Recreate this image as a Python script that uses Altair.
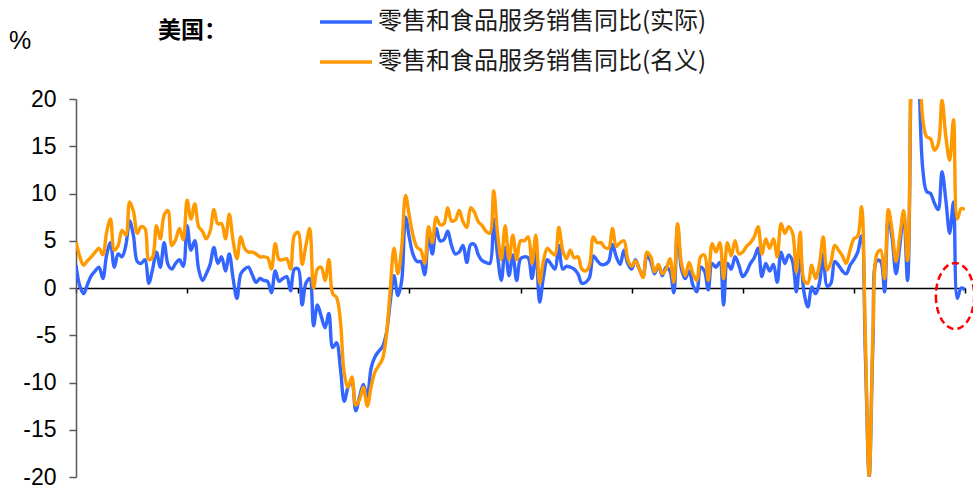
import altair as alt
import pandas as pd

# US retail & food services sales, year-on-year %, monthly from Jan 2003 to May 2022
real_yoy = [
    2.4, 0.2, -0.6, 0.4, 1.3, 1.8, 2.2, 1.0, 3.5, 4.8,
    2.2, 3.6, 3.3, 4.5, 7.1, 5.5, 2.8, 2.6, 3.0, 0.5,
    2.0, 3.8, 2.2, 4.8, 2.5, 2.0, 2.6, 3.0, 2.3, 6.6,
    4.0, 5.0, 2.0, 0.8, 1.5, 2.5, 4.3, 2.6, 3.3, 1.8,
    3.6, 1.0, -1.1, 1.5, 2.0, 2.2, 1.4, 0.6, 1.0, 0.8,
    0.7, -0.5, 1.8, 0.7, 1.0, 1.2, -0.3, 2.0, 2.0, -1.8,
    0.5, 1.0, -4.0, -1.8, -3.0, -4.2, -2.7, -6.3, -5.8, -8.5,
    -12.0, -10.5, -9.9, -13.0, -11.5, -10.2, -11.5, -8.5, -7.3, -6.7,
    -6.2, -4.8, -1.5, 1.3, -0.8, 0.8, 7.5, 5.3, 3.5, 2.8,
    2.8, 1.4, 5.6, 3.6, 6.3, 5.0, 5.1, 6.0, 4.5, 3.6,
    3.8, 4.5, 2.7, 4.6, 4.6, 3.5, 2.9, 2.7, 2.6, 7.3,
    3.5, 0.8, 4.3, 1.3, 3.5, 0.8, 3.1, 3.3, 3.2, 1.0,
    3.8, -1.5, 1.2, 3.0, 2.5, 2.0, 4.5, 2.0, 2.3, 2.2,
    2.0, 1.5, 0.5, 0.6, 1.1, 3.4, 2.9, 2.5, 2.5, 2.8,
    4.6, 3.3, 2.5, 4.0, 2.6, 2.0, 3.0, 2.0, 1.3, 3.5,
    2.8, 1.5, 2.4, 1.3, 2.2, 1.8, -0.5, 6.6, 2.0, 1.0,
    1.8, 0.3, -0.4, 2.2, 1.8, -0.2, 2.6, 2.2, 2.7, -1.8,
    2.6, 2.0, 3.3, 2.4, 1.2, 1.7, 2.6, 3.2, 4.2, 1.2,
    2.6, 1.8, 2.5, 0.6, 3.8, 2.6, 3.5, 2.8, -0.4, 3.5,
    -0.5, -2.0, 0.1, -0.6, 0.5, 3.6, 0.2, 0.5, 2.8, 2.4,
    1.8, 1.5, 2.4, 3.0, 3.8, 5.5, -7.0, -20.0, -5.5, 2.9,
    2.8, -0.4, 7.5, 5.2, 1.5, 4.5, 7.9, 0.8, 26.0, 48.0,
    23.0, 12.5, 10.2, 10.0, 9.0, 8.3, 12.3, 9.3, 5.8, 9.1,
    -1.1, 0.0, -0.2,
]

nominal_yoy = [
    4.9, 3.3, 2.4, 2.9, 3.3, 3.8, 4.2, 3.5, 5.9, 7.3,
    4.0, 4.5, 6.1, 5.6, 9.1, 8.1, 5.8, 6.5, 6.3, 3.0,
    3.3, 6.6, 5.2, 7.7, 8.2, 4.5, 5.1, 6.3, 5.1, 9.3,
    7.3, 8.9, 6.5, 6.0, 5.2, 6.0, 8.3, 6.8, 6.8, 5.2,
    7.8, 5.0, 3.1, 5.4, 4.2, 3.8, 3.8, 3.6, 3.3, 3.3,
    3.2, 2.0, 4.7, 3.0, 3.0, 3.1, 2.0, 5.6, 5.9, 2.5,
    4.5, 6.3, 0.0, 2.0, 2.2, 0.8, 3.0, -0.6, -1.0, -3.5,
    -9.0, -10.5, -9.4, -12.4, -11.8, -10.5, -12.5, -10.5, -8.9, -8.2,
    -7.5, -5.0, -0.2, 4.2, 1.5, 4.3, 9.8, 7.6, 5.5, 4.3,
    4.0, 2.6, 6.5, 4.8, 7.5, 6.7, 6.8, 8.5, 7.1, 7.2,
    8.2, 7.0, 6.4, 8.5, 8.0, 7.0, 6.6, 6.0, 5.8, 10.3,
    5.8, 3.0, 6.6, 3.0, 5.6, 3.0, 5.0, 5.0, 5.4, 2.6,
    5.6, 0.5, 2.9, 4.2, 3.8, 3.5, 6.4, 4.0, 3.1, 4.0,
    3.2, 3.3, 2.0, 1.8, 2.4, 5.4, 4.8, 4.8, 4.3, 4.2,
    6.3, 4.4, 4.8, 5.0, 3.0, 2.3, 2.9, 2.0, 1.1, 3.8,
    3.3, 1.7, 2.5, 1.5, 2.0, 3.1, 0.6, 6.8, 2.6, 1.3,
    2.7, 1.5, 0.8, 3.3, 3.5, 0.8, 4.7, 3.8, 4.8, 1.0,
    4.8, 3.4, 5.0, 3.6, 3.8, 4.4, 4.8, 5.4, 6.5, 3.6,
    5.2, 4.2, 5.2, 3.3, 6.8, 5.8, 6.5, 5.8, 1.7, 5.9,
    0.8, 0.5, 2.4, 1.0, 2.5, 5.4, 1.9, 2.7, 4.5, 4.0,
    3.4, 2.6, 4.0, 5.2, 5.5, 8.6, -5.5, -19.9, -4.5, 3.6,
    4.0, 1.0, 8.3, 6.0, 2.8, 5.5, 8.2, 2.9, 29.0, 51.0,
    28.0, 17.8, 16.0, 15.8, 14.6, 15.2, 19.9, 16.0, 13.5, 17.8,
    7.3, 8.4, 8.3,
]

series_names = ["零售和食品服务销售同比(实际)", "零售和食品服务销售同比(名义)"]
series_colors = ["#3366ff", "#ff9900"]
country_label = ["美国："]
unit_label = ["%"]
y_ticks = [-20, -15, -10, -5, 0, 5, 10, 15, 20]
x_ticks = [0, 29, 58, 87, 116, 145, 174, 203, 232]
# ring around the latest readings
highlight_m = [229.4]
highlight_v = [-0.85]

months = list(range(len(real_yoy)))
real_df = pd.DataFrame({"m": months, "v": real_yoy})
nominal_df = pd.DataFrame({"m": months, "v": nominal_yoy})
highlight_df = pd.DataFrame({"m": highlight_m, "v": highlight_v})

PLOT_W, PLOT_H = 889, 378

x_scale = alt.Scale(domain=[x_ticks[0], x_ticks[-1]], nice=False, zero=False)
y_scale = alt.Scale(domain=[y_ticks[0], y_ticks[-1]], nice=False, zero=False)

x_enc = alt.X(
    "m:Q",
    scale=x_scale,
    axis=alt.Axis(
        values=x_ticks, labels=False, title=None, grid=False,
        offset=-PLOT_H / 2,
        domainColor="#000000", domainWidth=1.5,
        tickColor="#000000", tickWidth=1.5, tickSize=5,
    ),
)
y_enc = alt.Y(
    "v:Q",
    scale=y_scale,
    axis=alt.Axis(
        values=y_ticks, title=None, grid=False,
        domainColor="#595959", domainWidth=1.5,
        tickColor="#595959", tickWidth=1.5, tickSize=7,
        labelFont="Liberation Sans", labelFontSize=23, labelColor="#000000",
        labelPadding=13,
        # plain hyphen for negatives
        labelExpr="'' + datum.value",
    ),
)

line_style = dict(strokeWidth=3.4, interpolate="catmull-rom", clip=True)

real_line = alt.Chart(real_df).mark_line(color=series_colors[0], **line_style).encode(x=x_enc, y=y_enc)
nominal_line = alt.Chart(nominal_df).mark_line(color=series_colors[1], **line_style).encode(x=x_enc, y=y_enc)

ellipse_path = "M-0.58,0A0.58,1,0,1,0,0.58,0A0.58,1,0,1,0,-0.58,0Z"
ring = alt.Chart(highlight_df).mark_point(
    shape=ellipse_path, size=4356, filled=False,
    stroke="#ff0000", strokeWidth=2.5, strokeDash=[7, 4], opacity=1,
).encode(x=alt.X("m:Q", scale=x_scale), y=alt.Y("v:Q", scale=y_scale))

legend_y = [-77, -37]
legend_layers = []
for name, color, ly in zip(series_names, series_colors, legend_y):
    ldf = pd.DataFrame({"label": [name]})
    legend_layers.append(
        alt.Chart(ldf).mark_rule(color=color, strokeWidth=3.4).encode(
            x=alt.value(244), x2=alt.value(296), y=alt.value(ly)
        )
    )
    legend_layers.append(
        alt.Chart(ldf).mark_text(
            align="left", baseline="middle", font="Noto Sans CJK SC",
            fontSize=24, color="#1a1a1a",
        ).encode(x=alt.value(302), y=alt.value(ly), text="label:N")
    )

country_text = alt.Chart(pd.DataFrame({"label": country_label})).mark_text(
    align="left", baseline="middle", font="Noto Sans CJK SC",
    fontSize=23, fontWeight="bold", color="#000000",
).encode(x=alt.value(82), y=alt.value(-68), text="label:N")

unit_text = alt.Chart(pd.DataFrame({"label": unit_label})).mark_text(
    align="center", baseline="middle", font="Liberation Sans",
    fontSize=25, color="#000000",
).encode(x=alt.value(-56), y=alt.value(-58), text="label:N")

chart = alt.layer(
    real_line, nominal_line, ring, *legend_layers, country_text, unit_text
).properties(
    width=PLOT_W,
    height=PLOT_H,
    autosize=alt.AutoSizeParams(type="none"),
    padding={"left": 76, "top": 99, "right": 8, "bottom": 10},
).configure_view(stroke=None)

chart.save("out.html", embed_options={"renderer": "svg", "actions": False})
